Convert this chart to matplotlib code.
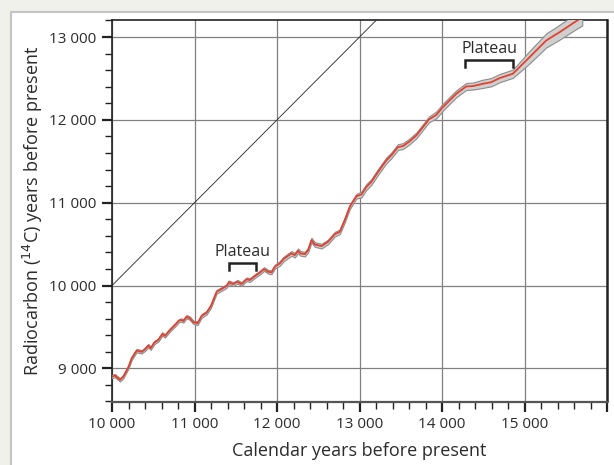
import numpy as np
import matplotlib.pyplot as plt
from matplotlib.ticker import MultipleLocator, FuncFormatter
from matplotlib.patches import Rectangle

# calibration curve (calendar yr BP vs 14C yr BP)
cal_years = [10000, 10036, 10057, 10097, 10137, 10198, 10239, 10299, 10360, 10400,
             10440, 10469, 10512, 10561, 10610, 10642, 10703, 10763, 10811, 10844,
             10864, 10904, 10944, 10985, 11037, 11086, 11146, 11199, 11268, 11328,
             11389, 11416, 11469, 11521, 11570, 11630, 11671, 11731, 11780, 11844,
             11893, 11933, 11973, 12034, 12080, 12175, 12215, 12255, 12284, 12337,
             12377, 12418, 12458, 12539, 12619, 12700, 12760, 12821, 12881, 12962,
             13023, 13083, 13144, 13224, 13326, 13386, 13466, 13527, 13608, 13689,
             13769, 13842, 13931, 14011, 14092, 14173, 14294, 14375, 14496, 14596,
             14697, 14858, 14939, 15061, 15262, 15424, 15605, 15700]
c14_years = [8901, 8913, 8894, 8862, 8901, 9014, 9123, 9215, 9199, 9231,
             9275, 9243, 9311, 9343, 9416, 9392, 9464, 9524, 9576, 9584,
             9572, 9624, 9605, 9557, 9545, 9633, 9672, 9753, 9925, 9958,
             9994, 10039, 10018, 10046, 10018, 10075, 10066, 10114, 10147, 10199,
             10166, 10159, 10227, 10267, 10320, 10388, 10367, 10419, 10388, 10379,
             10428, 10548, 10496, 10476, 10528, 10620, 10648, 10789, 10949, 11078,
             11099, 11190, 11251, 11371, 11512, 11572, 11672, 11684, 11741, 11813,
             11913, 12006, 12060, 12154, 12235, 12315, 12404, 12408, 12436, 12455,
             12504, 12557, 12636, 12757, 12958, 13058, 13178, 13240]
c14_err = [20, 20, 20, 20, 20, 20, 20, 20, 20, 20,
           20, 20, 20, 20, 20, 20, 20, 20, 20, 20,
           20, 20, 20, 20, 22, 22, 22, 22, 22, 22,
           22, 22, 22, 22, 22, 22, 22, 22, 22, 22,
           22, 22, 22, 28, 28, 28, 28, 28, 28, 28,
           28, 28, 28, 28, 28, 28, 28, 28, 28, 28,
           35, 35, 35, 35, 35, 35, 35, 35, 35, 35,
           35, 35, 42, 42, 42, 42, 42, 42, 50, 50,
           50, 50, 60, 75, 85, 90, 95, 100]

# plateau brackets: (start, end, level)
plateau_start = [11420, 14280]
plateau_end = [11750, 14860]
plateau_level = [10270, 12720]

cal = np.array(cal_years)
c14 = np.array(c14_years)
err = np.array(c14_err)

plt.rcParams['font.family'] = ['Open Sans', 'DejaVu Sans']
txt = '#2b2b2b'

fig = plt.figure(figsize=(6.14, 4.65), dpi=100)
fig.patch.set_facecolor('#f1f1ec')
panel = Rectangle((11 / 614, -0.05), 1.0, 1 - 12 / 465 + 0.05,
                  transform=fig.transFigure, facecolor='white',
                  edgecolor='#c4c4c4', linewidth=1.5, zorder=-10)
fig.add_artist(panel)

ax = fig.add_axes([112 / 614, 63.5 / 465, 495 / 614, 381 / 465])
ax.set_zorder(1)
ax.set_facecolor('white')
ax.set_xlim(10000, 16000)
ax.set_ylim(8600, 13200)

ax.grid(True, which='major', color='#808080', linewidth=0.9)
ax.set_axisbelow(True)

# 1:1 line
ax.axline((10000, 10000), slope=1, color='#222222', linewidth=0.6, zorder=2)

ax.fill_between(cal, c14 - err, c14 + err, facecolor='#cfcfcf',
                edgecolor='#8c8c8c', linewidth=0.8, zorder=3)
ax.plot(cal, c14, color='#e2412f', linewidth=1.3, zorder=4)

for x0, x1, yl in zip(plateau_start, plateau_end, plateau_level):
    ax.plot([x0, x0, x1, x1], [yl - 85, yl, yl, yl - 85], color='#222222',
            linewidth=1.8, solid_joinstyle='miter', zorder=5)
    ax.text((x0 + x1) / 2, yl + 35, 'Plateau', ha='center', va='bottom',
            fontsize=11.5, color=txt, zorder=5)


def thousands(v, p):
    if v >= 16000:
        return ''
    return '{:,}'.format(int(v)).replace(',', ' ')


fmt = FuncFormatter(thousands)
ax.xaxis.set_major_locator(MultipleLocator(1000))
ax.xaxis.set_minor_locator(MultipleLocator(200))
ax.yaxis.set_major_locator(MultipleLocator(1000))
ax.yaxis.set_minor_locator(MultipleLocator(200))
ax.xaxis.set_major_formatter(fmt)
ax.yaxis.set_major_formatter(fmt)

ax.tick_params(which='major', length=7, width=1.6, color='#222222',
               labelsize=11, labelcolor=txt, pad=4)
ax.tick_params(which='minor', length=5, width=1.0, color='#222222')

for s in ['left', 'top', 'right']:
    ax.spines[s].set_color('#222222')
    ax.spines[s].set_linewidth(1.2)
ax.spines['right'].set_linewidth(1.8)
ax.spines['bottom'].set_color('#555555')
ax.spines['bottom'].set_linewidth(1.6)

ax.set_xlabel('Calendar years before present', fontsize=13, color=txt, labelpad=7)
ax.set_ylabel('Radiocarbon ($^{14}$C) years before present', fontsize=13,
              color=txt, labelpad=3)

fig.savefig('out.png', dpi=100, facecolor=fig.get_facecolor())
